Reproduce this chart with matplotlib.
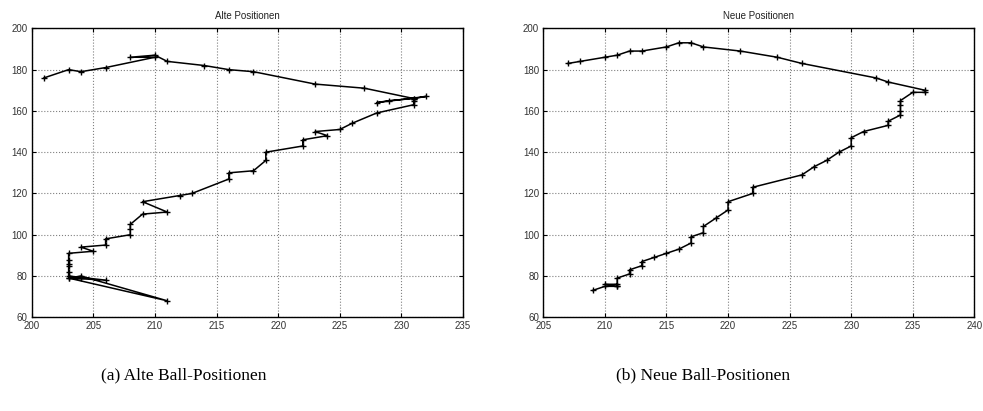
#%%
# imports
import matplotlib
matplotlib.use("Agg")
import matplotlib.pyplot as plt

#%%
# data: ball positions (x, y)
alt_x = [201, 203, 204, 206, 210, 208, 210, 211, 214, 216, 218, 223, 227, 231, 232,
         228, 229, 231, 231, 231, 228, 226, 225, 223, 224, 222, 222, 219, 219, 218,
         216, 216, 213, 212, 209, 211, 209, 208, 208, 208, 206, 206, 204, 205, 203,
         203, 203, 203, 203, 203, 206, 203, 204, 211, 203, 204]
alt_y = [176, 180, 179, 181, 186, 186, 187, 184, 182, 180, 179, 173, 171, 166, 167,
         164, 165, 166, 165, 163, 159, 154, 151, 150, 148, 146, 143, 140, 136, 131,
         130, 127, 120, 119, 116, 111, 110, 105, 103, 100, 98, 95, 94, 92, 91,
         88, 86, 85, 82, 80, 78, 79, 80, 68, 79, 79]

neu_x = [209, 210, 211, 210, 211, 211, 211, 212, 212, 213, 213, 214, 215, 216, 217,
         217, 218, 218, 219, 220, 220, 222, 222, 226, 227, 228, 229, 230, 230, 231,
         233, 233, 234, 234, 234, 234, 235, 236, 236, 233, 232, 226, 224, 221, 218,
         217, 216, 215, 213, 212, 211, 210, 208, 207]
neu_y = [73, 75, 75, 76, 76, 75, 79, 81, 83, 85, 87, 89, 91, 93, 96,
         99, 101, 104, 108, 112, 116, 120, 123, 129, 133, 136, 140, 143, 147, 150,
         153, 155, 158, 160, 163, 165, 169, 169, 170, 174, 176, 183, 186, 189, 191,
         193, 193, 191, 189, 189, 187, 186, 184, 183]

panels = [
    ("Alte Positionen", "(a) Alte Ball-Positionen", alt_x, alt_y, (200, 235)),
    ("Neue Positionen", "(b) Neue Ball-Positionen", neu_x, neu_y, (205, 240)),
]

#%%
# plot
fig = plt.figure(figsize=(9.83, 4.11), dpi=100)
plt.rcParams['font.family'] = ['Liberation Sans', 'DejaVu Sans']

axes_rects = [[0.0322, 0.228, 0.4388, 0.703],
              [0.5527, 0.228, 0.4385, 0.703]]
caption_x = [0.352, 0.37]

for rect, cx, (title, caption, xs, ys, xlim) in zip(axes_rects, caption_x, panels):
    ax = fig.add_axes(rect)
    ax.plot(xs, ys, color='black', lw=1.1, marker='+', ms=5, mew=1.0)
    ax.set_xlim(*xlim)
    ax.set_ylim(60, 200)
    ax.set_xticks(range(xlim[0], xlim[1] + 1, 5))
    ax.set_yticks(range(60, 201, 20))
    ax.tick_params(axis='both', which='both', direction='in', top=True, right=True,
                   labelsize=7, length=3, width=0.8, pad=3, labelcolor='#333333')
    ax.grid(which='major', axis='both', c='gray', ls=':', lw=0.8)
    for s in ax.spines.values():
        s.set_linewidth(1.0)
    ax.set_title(title, fontsize=7, pad=7, color='#222222')
    ax.text(cx, -0.20, caption, transform=ax.transAxes,
            ha='center', va='center', fontsize=12.5, family=['Liberation Serif'])

fig.savefig("out.png", dpi=100)
